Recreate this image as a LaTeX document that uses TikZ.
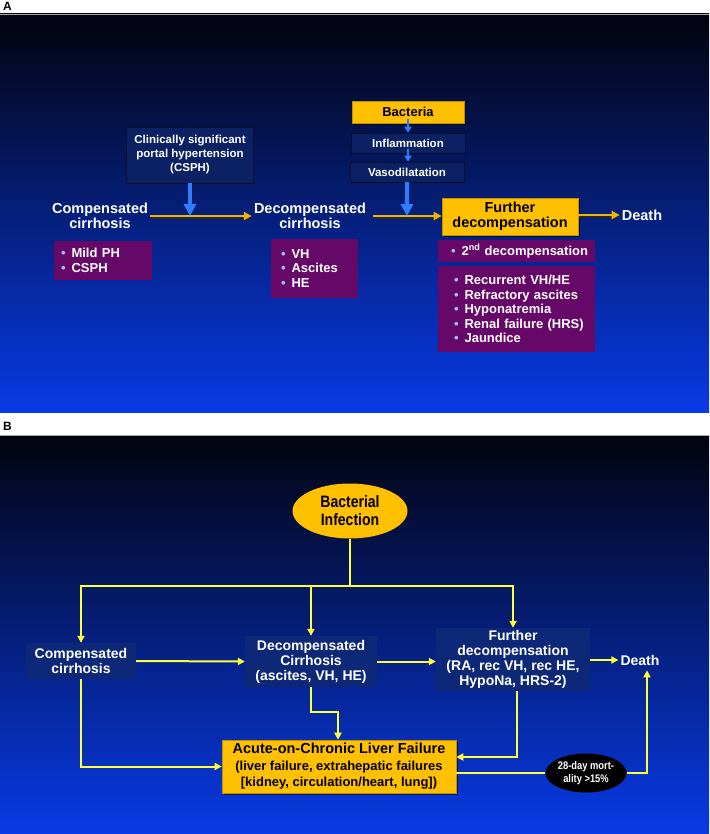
\documentclass[tikz,border=0pt]{standalone}
\usepackage{fontspec}
\setmainfont{Liberation Sans}
\newfontfamily\narrowfont[FakeStretch=0.85]{Liberation Sans}
\usetikzlibrary{arrows.meta,shapes.geometric,shadows,positioning}

\definecolor{slidetop}{RGB}{2,3,14}
\definecolor{slidemid}{RGB}{2,32,135}
\definecolor{slideblue}{RGB}{8,58,230}
\definecolor{boxnavy}{RGB}{11,33,100}
\definecolor{boxnavyb}{RGB}{12,40,118}
\definecolor{boxpurple}{RGB}{102,8,104}
\definecolor{boxgold}{RGB}{255,192,0}
\definecolor{arrowgold}{RGB}{232,180,20}
\definecolor{lineyellow}{RGB}{255,255,60}
\definecolor{bulletblue}{RGB}{170,185,235}
\definecolor{arrowblue}{RGB}{45,125,255}

\newcommand{\bulpad}{8pt}
\newcommand{\bul}{\hspace*{\bulpad}\textcolor{bulletblue}{\textbullet}\hspace{6pt}}

\tikzset{
  mainlbl/.style={text=white, font=\bfseries\fontsize{14.5}{15.5}\selectfont, align=center, inner sep=2pt},
  navybox/.style={fill=boxnavy, draw=black!55!boxnavy, line width=0.6pt, text=white, align=center, inner sep=0pt},
  goldbox/.style={fill=boxgold, draw=black!25!boxgold, line width=0.6pt, text=black, align=center, inner sep=0pt,
    drop shadow={shadow xshift=2pt, shadow yshift=-2pt, fill=black, opacity=0.55}},
  purplebox/.style={fill=boxpurple, text=white, align=left, inner ysep=0pt, inner xsep=1pt,
    font=\bfseries\fontsize{13}{14.5}\selectfont, execute at begin node={\renewcommand{\bulpad}{#1}}},
  purplebox/.default=8pt,
  goldarrow/.style={draw=arrowgold, line width=2.6pt, -{Triangle[length=8pt,width=8pt]},
    preaction={draw=black!85, line width=2.6pt, -{Triangle[length=8pt,width=8pt]}, transform canvas={xshift=0.6pt,yshift=-1.3pt}}},
  bluearrow/.style={draw=arrowblue, line width=4.5pt, -{Triangle[length=12pt,width=12pt]}},
  smallblue/.style={draw=arrowblue, line width=2.5pt, -{Triangle[length=6pt,width=7pt]}, shorten <=-4pt},
  boxb/.style={fill=boxnavyb, text=white, align=center, inner sep=0pt, font=\bfseries\fontsize{14}{15}\selectfont},
  yline/.style={draw=lineyellow, line width=2pt},
  yarrow/.style={yline, -{Triangle[length=7pt,width=7pt]}},
}

\begin{document}
\begin{tikzpicture}[x=1pt, y=-1pt]
\useasboundingbox (0,0) rectangle (709,834);
\fill[white] (0,0) rectangle (709,834);

% panel backgrounds
\shade[top color=slidetop, middle color=slidemid, bottom color=slideblue] (0,14) rectangle (709,412);
\draw[gray!70, line width=0.8pt] (0,14) -- (709,14);
\shade[top color=slidetop, middle color=slidemid, bottom color=slideblue] (0,435) rectangle (709,834);
\draw[gray!70, line width=0.8pt] (0,435) -- (709,435);
\node[anchor=north west, inner sep=0pt, font=\bfseries\fontsize{12}{12}\selectfont] (labA) at (3,2) {A};
\node[anchor=north west, inner sep=0pt, font=\bfseries\fontsize{12}{12}\selectfont] (labB) at (3,422) {B};

% ---- panel A ----
\node[mainlbl] (comp) at (100,216) {Compensated\\cirrhosis};
\node[mainlbl] (decomp) at (310,216) {Decompensated\\cirrhosis};
\node[navybox, minimum width=127, minimum height=56, font=\bfseries\fontsize{11.5}{14}\selectfont] (csph) at (190,155)
  {Clinically significant\\portal hypertension\\(CSPH)};
\node[purplebox=6pt, text width=96, minimum height=39] (mildph) at (103,260.5) {\bul Mild PH\\\bul CSPH};
\node[purplebox=9pt, text width=85, minimum height=59] (vhlist) at (314.5,268.5) {\bul VH\\\bul Ascites\\\bul HE};

\node[goldbox, minimum width=112, minimum height=22, font=\bfseries\fontsize{13}{14}\selectfont] (bact) at (408,112) {Bacteria};
\node[navybox, minimum width=114, minimum height=20, font=\bfseries\fontsize{11.5}{13}\selectfont] (infl) at (408,143) {Inflammation};
\node[navybox, minimum width=114, minimum height=20, font=\bfseries\fontsize{11.5}{13}\selectfont] (vaso) at (407,172) {Vasodilatation};
\node[goldbox, minimum width=136, minimum height=37, font=\bfseries\fontsize{14.5}{15}\selectfont] (further) at (510,216.5)
  {Further\\decompensation};
\node[mainlbl] (death) at (642,215) {Death};
\node[purplebox=12pt, text width=155, minimum height=22] (second) at (516.5,251) {\bul 2\textsuperscript{nd} decompensation};
\node[purplebox=15pt, text width=155, minimum height=86] (latelist) at (516.5,309)
  {\bul Recurrent VH/HE\\\bul Refractory ascites\\\bul Hyponatremia\\\bul Renal failure (HRS)\\\bul Jaundice};

\draw[goldarrow] (comp.east) -- (decomp.west);
\draw[goldarrow, shorten <=5pt] (decomp.east) -- (further.west |- decomp.east);
\draw[goldarrow] (further.east |- death.west) -- (death.west);
\draw[bluearrow] (csph.south) -- (csph.south |- comp.east);
\draw[bluearrow] (vaso.south) -- (vaso.south |- decomp.east);
\draw[smallblue] (bact.south -| infl.north) -- (infl.north);
\draw[smallblue] (infl.south) -- (vaso.north -| infl.south);

% ---- panel B ----
\node[ellipse, fill=boxgold, minimum width=115, minimum height=55, inner sep=0pt,
  font=\narrowfont\bfseries\fontsize{16.5}{18}\selectfont, align=center] (infect) at (350,511) {Bacterial\\Infection};
\node[boxb, minimum width=110, minimum height=36] (comp2) at (81,661) {Compensated\\cirrhosis};
\node[boxb, minimum width=132, minimum height=51] (decomp2) at (311,661.5) {Decompensated\\Cirrhosis\\(ascites, VH, HE)};
\node[boxb, minimum width=154, minimum height=63] (further2) at (513,659.5)
  {Further\\decompensation\\(RA, rec VH, rec HE,\\HypoNa, HRS-2)};
\node[mainlbl, font=\bfseries\fontsize{14}{15}\selectfont] (death2) at (640,660) {Death};
\node[goldbox, minimum width=234, minimum height=53, font=\bfseries\fontsize{13}{16.5}\selectfont] (aclf) at (339,766.5)
  {{\fontsize{14.5}{16.5}\selectfont Acute-on-Chronic Liver Failure}\\(liver failure, extrahepatic failures\\{}[kidney, circulation/heart, lung])};
\node[ellipse, fill=black, minimum width=81, minimum height=39, inner sep=0pt, text=white,
  font=\narrowfont\bfseries\fontsize{11}{12.5}\selectfont, align=center] (mort) at (586,773) {28-day mort-\\ality >15\%};

\coordinate (split) at (350,586);
\draw[yline] (infect.south) -- (split);
\draw[yarrow] (split) -| (comp2.north);
\draw[yarrow] (split) -| (decomp2.north);
\draw[yarrow] (split) -| (further2.north);
\draw[yarrow] (comp2.east) -- (decomp2.west);
\draw[yarrow] (decomp2.east) -- (further2.west |- decomp2.east);
\draw[yarrow] (further2.east |- death2.west) -- (death2.west);
\draw[yarrow] (comp2.south) |- (aclf.west);
\draw[yarrow] (decomp2.south) -- ++(0,25) -| ([xshift=-1pt]aclf.north);
\draw[yarrow] ([xshift=4pt]further2.south) |- ([yshift=9.5pt]aclf.east);
\draw[yline] ([yshift=-6.5pt]aclf.east) -- (mort.west);
\draw[yarrow] (mort.east) -| ([xshift=7pt,yshift=-3pt]death2.south);
\end{tikzpicture}
\end{document}
